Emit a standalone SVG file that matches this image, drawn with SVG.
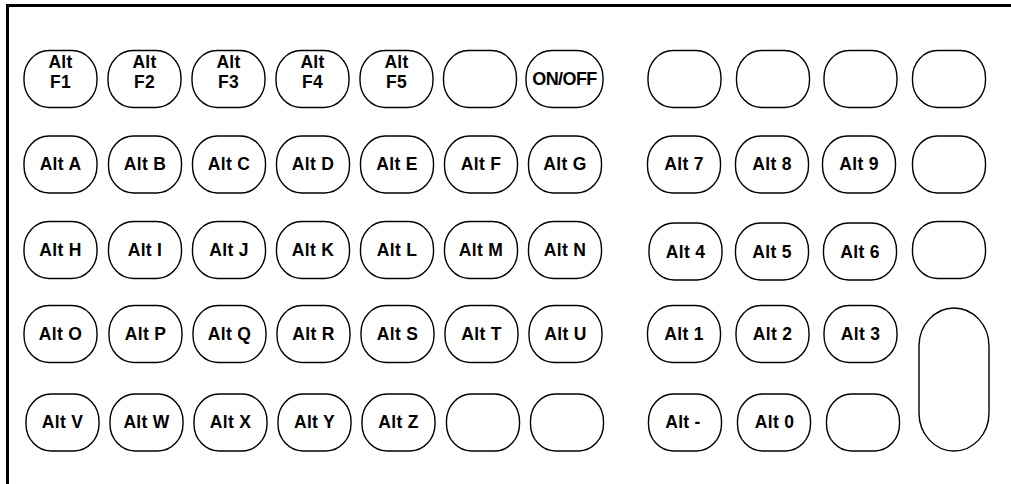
<svg xmlns="http://www.w3.org/2000/svg" width="1011" height="484" viewBox="0 0 1011 484">
<style>
.k{fill:#fff;stroke:#000;stroke-width:1.4}
.t{font-family:"Liberation Sans",Arial,sans-serif;font-weight:bold;font-size:17.5px;text-anchor:middle;fill:#000;letter-spacing:0.3px}
</style>
<defs>
<rect id="key" class="k" width="73" height="57" rx="25" ry="27"/>
</defs>
<rect width="1011" height="484" fill="#fff"/>
<path d="M7.5,484 V5.5 H1011" fill="none" stroke="#000" stroke-width="3"/>
<g id="row1">
<g id="k-altf1"><use href="#key" x="24" y="50.5"/><text class="t" x="60.5" y="68">Alt</text><text class="t" x="60.5" y="88">F1</text></g>
<g id="k-altf2"><use href="#key" x="108" y="50.5"/><text class="t" x="144.5" y="68">Alt</text><text class="t" x="144.5" y="88">F2</text></g>
<g id="k-altf3"><use href="#key" x="192" y="50.5"/><text class="t" x="228.5" y="68">Alt</text><text class="t" x="228.5" y="88">F3</text></g>
<g id="k-altf4"><use href="#key" x="276" y="50.5"/><text class="t" x="312.5" y="68">Alt</text><text class="t" x="312.5" y="88">F4</text></g>
<g id="k-altf5"><use href="#key" x="360" y="50.5"/><text class="t" x="396.5" y="68">Alt</text><text class="t" x="396.5" y="88">F5</text></g>
<g id="k-blank1"><use href="#key" x="443.5" y="50.5"/></g>
<g id="k-onoff"><rect class="k" x="526" y="50.5" width="77" height="57" rx="26" ry="27"/><text class="t" x="564.5" y="85" style="font-size:18px;letter-spacing:-0.6px">ON/OFF</text></g>
<g id="k-r1c1"><use href="#key" x="648" y="50.5"/></g>
<g id="k-r1c2"><use href="#key" x="736.5" y="50.5"/></g>
<g id="k-r1c3"><use href="#key" x="824" y="50.5"/></g>
<g id="k-r1c4"><use href="#key" x="912.5" y="50.5"/></g>
</g>
<g id="row2">
<g id="k-alta"><use href="#key" x="24" y="136"/><text class="t" x="60.5" y="170">Alt A</text></g>
<g id="k-altb"><use href="#key" x="108.5" y="136"/><text class="t" x="145" y="170">Alt B</text></g>
<g id="k-altc"><use href="#key" x="192.5" y="136"/><text class="t" x="229" y="170">Alt C</text></g>
<g id="k-altd"><use href="#key" x="276.5" y="136"/><text class="t" x="313" y="170">Alt D</text></g>
<g id="k-alte"><use href="#key" x="360.5" y="136"/><text class="t" x="397" y="170">Alt E</text></g>
<g id="k-altf"><use href="#key" x="444.5" y="136"/><text class="t" x="481" y="170">Alt F</text></g>
<g id="k-altg"><use href="#key" x="528.5" y="136"/><text class="t" x="565" y="170">Alt G</text></g>
<g id="k-alt7"><use href="#key" x="647.5" y="136"/><text class="t" x="684" y="170">Alt 7</text></g>
<g id="k-alt8"><use href="#key" x="735.5" y="136"/><text class="t" x="772" y="170">Alt 8</text></g>
<g id="k-alt9"><use href="#key" x="822.5" y="136"/><text class="t" x="859" y="170">Alt 9</text></g>
<g id="k-r2c4"><use href="#key" x="912.5" y="136"/></g>
</g>
<g id="row3">
<g id="k-alth"><use href="#key" x="24" y="221.5"/><text class="t" x="60.5" y="256">Alt H</text></g>
<g id="k-alti"><use href="#key" x="108.5" y="221.5"/><text class="t" x="145" y="256">Alt I</text></g>
<g id="k-altj"><use href="#key" x="192.5" y="221.5"/><text class="t" x="229" y="256">Alt J</text></g>
<g id="k-altk"><use href="#key" x="276.5" y="221.5"/><text class="t" x="313" y="256">Alt K</text></g>
<g id="k-altl"><use href="#key" x="360.5" y="221.5"/><text class="t" x="397" y="256">Alt L</text></g>
<g id="k-altm"><use href="#key" x="444.5" y="221.5"/><text class="t" x="481" y="256">Alt M</text></g>
<g id="k-altn"><use href="#key" x="528.5" y="221.5"/><text class="t" x="565" y="256">Alt N</text></g>
<g id="k-alt4"><use href="#key" x="649" y="223"/><text class="t" x="685.5" y="257.5">Alt 4</text></g>
<g id="k-alt5"><use href="#key" x="735.5" y="223"/><text class="t" x="772" y="257.5">Alt 5</text></g>
<g id="k-alt6"><use href="#key" x="823.5" y="223"/><text class="t" x="860" y="257.5">Alt 6</text></g>
<g id="k-r3c4"><use href="#key" x="912.5" y="221.5"/></g>
</g>
<g id="row4">
<g id="k-alto"><use href="#key" x="24" y="305.5"/><text class="t" x="60.5" y="339.5">Alt O</text></g>
<g id="k-altp"><use href="#key" x="109" y="305.5"/><text class="t" x="145.5" y="339.5">Alt P</text></g>
<g id="k-altq"><use href="#key" x="193" y="305.5"/><text class="t" x="229.5" y="339.5">Alt Q</text></g>
<g id="k-altr"><use href="#key" x="277" y="305.5"/><text class="t" x="313.5" y="339.5">Alt R</text></g>
<g id="k-alts"><use href="#key" x="361" y="305.5"/><text class="t" x="397.5" y="339.5">Alt S</text></g>
<g id="k-altt"><use href="#key" x="445" y="305.5"/><text class="t" x="481.5" y="339.5">Alt T</text></g>
<g id="k-altu"><use href="#key" x="529" y="305.5"/><text class="t" x="565.5" y="339.5">Alt U</text></g>
<g id="k-alt1"><use href="#key" x="647.5" y="305.5"/><text class="t" x="684" y="339.5">Alt 1</text></g>
<g id="k-alt2"><use href="#key" x="736" y="305.5"/><text class="t" x="772.5" y="339.5">Alt 2</text></g>
<g id="k-alt3"><use href="#key" x="824" y="305.5"/><text class="t" x="860.5" y="339.5">Alt 3</text></g>
<g id="k-tall"><rect class="k" x="919" y="308" width="70" height="143" rx="35" ry="38"/></g>
</g>
<g id="row5">
<g id="k-altv"><use href="#key" x="26" y="394"/><text class="t" x="62.5" y="427.5">Alt V</text></g>
<g id="k-altw"><use href="#key" x="110" y="394"/><text class="t" x="146.5" y="427.5">Alt W</text></g>
<g id="k-altx"><use href="#key" x="194" y="394"/><text class="t" x="230.5" y="427.5">Alt X</text></g>
<g id="k-alty"><use href="#key" x="278" y="394"/><text class="t" x="314.5" y="427.5">Alt Y</text></g>
<g id="k-altz"><use href="#key" x="362" y="394"/><text class="t" x="398.5" y="427.5">Alt Z</text></g>
<g id="k-blank5a"><use href="#key" x="446.5" y="394"/></g>
<g id="k-blank5b"><use href="#key" x="530.5" y="394"/></g>
<g id="k-altminus"><use href="#key" x="648.5" y="394"/><text class="t" x="683" y="427.5">Alt -</text></g>
<g id="k-alt0"><use href="#key" x="737.5" y="394"/><text class="t" x="774.5" y="427.5">Alt 0</text></g>
<g id="k-blank5c"><use href="#key" x="826.5" y="394"/></g>
</g>
<g id="connectors"/>
</svg>
